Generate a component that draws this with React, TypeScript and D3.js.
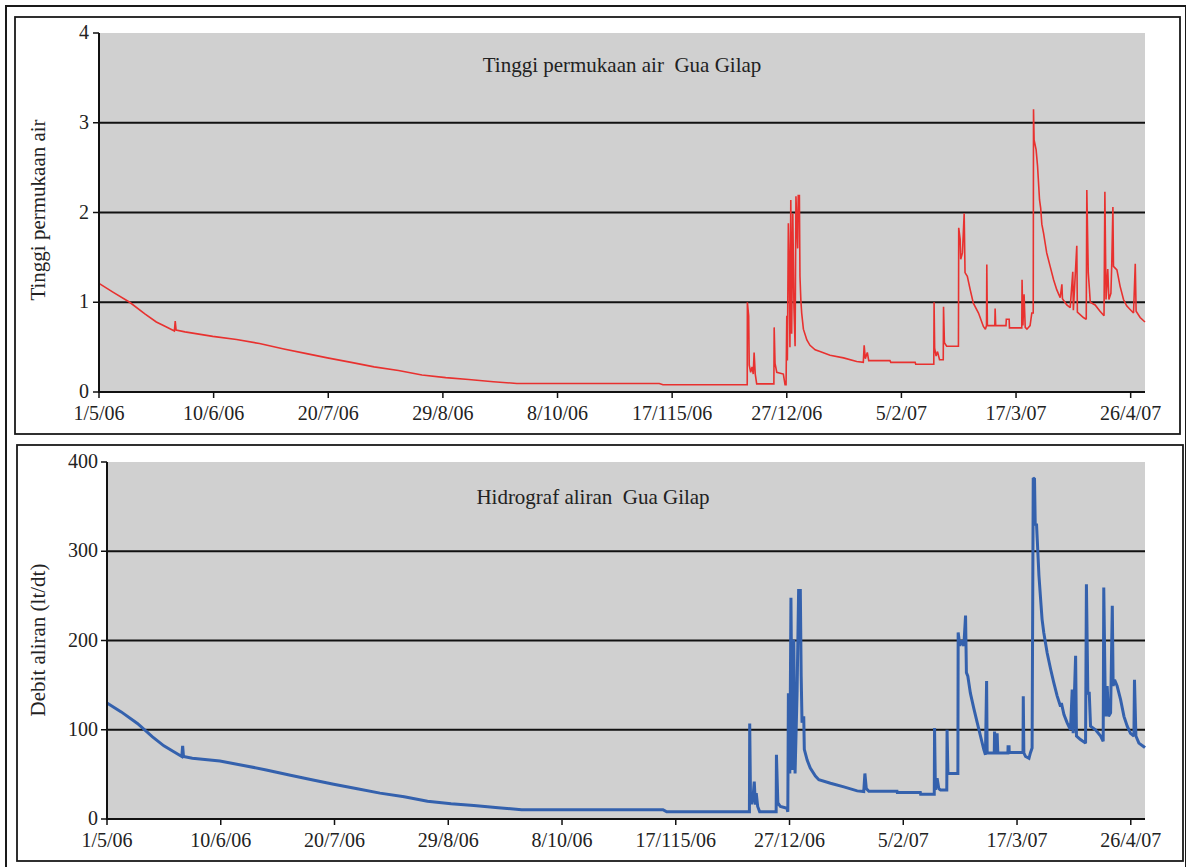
import React from "react";
import * as d3 from "d3";

// x-axis categories: day offsets from 1/5/06 and their labels
const tickDays = [0, 40, 80, 120, 160, 200, 240, 280, 320, 360];
const tickLabels = ["1/5/06", "10/6/06", "20/7/06", "29/8/06", "8/10/06", "17/115/06", "27/12/06", "5/2/07", "17/3/07", "26/4/07"];

const levelTicks = [0, 1, 2, 3, 4];
const flowTicks = [0, 100, 200, 300, 400];

// Tinggi permukaan air: [day offset from 1/5/06, value]
const levelSeries: [number, number][] = [
  [0, 1.21], [5, 1.11], [10.7, 1.0], [16, 0.87], [20, 0.78], [23.2, 0.73], [26.3, 0.68], [26.6, 0.79], [26.9, 0.69],
  [30, 0.67], [39.7, 0.62], [48, 0.585], [56, 0.54], [64.5, 0.48], [72, 0.43], [79.7, 0.38], [88, 0.33], [96, 0.28],
  [104.5, 0.24], [112.7, 0.19], [121, 0.16], [129, 0.14], [137.6, 0.115], [145.8, 0.095], [195.5, 0.095], [196.8, 0.08],
  [226.2, 0.08], [226.25, 1.0], [226.7, 0.85], [226.9, 0.3], [227.4, 0.22], [227.9, 0.28], [228.3, 0.2], [228.6, 0.44],
  [229.0, 0.2], [229.5, 0.09], [235.5, 0.09], [235.6, 0.72], [235.9, 0.32], [236.5, 0.22], [238.8, 0.2], [239.4, 0.08],
  [239.75, 0.08], [240.0, 0.85], [240.2, 0.35], [240.55, 1.88], [240.9, 1.29], [241.1, 0.5], [241.4, 2.14], [241.7, 0.65],
  [242.1, 1.99], [242.5, 0.95], [242.9, 0.51], [243.2, 2.18], [243.8, 1.6], [244.0, 2.19], [244.4, 2.19], [244.6, 1.29],
  [244.9, 1.03], [245.2, 0.88], [245.8, 0.7], [247.0, 0.58], [248.1, 0.52], [249.9, 0.47], [251.6, 0.45], [255.1, 0.41],
  [259.8, 0.38], [264.4, 0.34], [266.7, 0.33], [267.0, 0.52], [267.4, 0.37], [268.1, 0.44], [268.6, 0.35], [276.0, 0.35],
  [276.3, 0.33], [284.8, 0.33], [285.0, 0.31], [291.3, 0.31], [291.4, 1.0], [291.6, 0.49], [292.1, 0.4], [292.6, 0.45],
  [293.3, 0.36], [294.6, 0.36], [294.7, 0.95], [295.0, 0.55], [295.8, 0.51], [299.9, 0.51], [300.0, 1.83], [300.5, 1.7],
  [300.7, 1.48], [301.3, 1.55], [301.9, 1.99], [302.2, 1.33], [303.0, 1.29], [304.0, 1.14], [305.1, 0.99], [306.9, 0.88],
  [308.6, 0.73], [309.3, 0.7], [309.7, 0.74], [309.8, 1.42], [310.0, 0.74], [312.6, 0.74], [312.7, 0.93], [312.9, 0.74],
  [316.5, 0.74], [316.6, 0.81], [317.6, 0.81], [317.7, 0.715], [322.0, 0.715], [322.1, 1.25], [322.4, 0.74], [322.8, 1.09],
  [323.2, 0.72], [323.8, 0.7], [324.9, 0.74], [325.5, 0.88], [326.0, 0.88], [326.1, 3.15], [326.3, 2.81], [327.0, 2.7],
  [327.5, 2.52], [328.2, 2.14], [328.6, 2.05], [329.0, 1.87], [329.6, 1.77], [330.7, 1.55], [331.9, 1.4], [333.1, 1.25],
  [334.2, 1.14], [335.4, 1.05], [336.0, 1.2], [336.2, 1.04], [337.7, 0.97], [338.9, 0.94], [339.8, 1.34], [340.0, 0.91],
  [341.2, 1.63], [341.4, 0.89], [343.5, 0.83], [344.5, 0.81], [344.7, 2.25], [345.2, 1.33], [345.6, 1.15], [345.9, 1.0],
  [347.6, 0.97], [349.3, 0.9], [350.7, 0.85], [351.0, 2.23], [351.4, 1.03], [352.0, 1.37], [352.4, 1.03], [353.1, 1.1],
  [353.4, 1.42], [353.8, 2.06], [354.0, 1.4], [355.2, 1.36], [356.3, 1.18], [357.5, 1.03], [358.6, 0.96], [359.8, 0.92],
  [361.0, 0.88], [361.6, 1.43], [361.9, 0.9], [363.3, 0.83], [365.0, 0.78],
];

// Debit aliran (lt/dt): [day offset from 1/5/06, value]
const flowSeries: [number, number][] = [
  [0, 130], [5, 120], [10.7, 107], [16, 92], [20, 82], [23.2, 76], [26.3, 70], [26.6, 82], [26.9, 70], [30, 68],
  [39.7, 65], [48, 60], [56, 55], [64.5, 49], [72, 44], [79.7, 39], [88, 34], [96, 29], [104.5, 25], [112.7, 20],
  [121, 17], [129, 15], [137.6, 12.5], [145.8, 10.5], [195.5, 10.5], [196.8, 8],
  [225.9, 8], [226.0, 107], [226.3, 18], [226.8, 18], [227.2, 25], [227.6, 42], [228.0, 16], [228.3, 29], [228.8, 14],
  [229.5, 8], [235.3, 8], [235.4, 72], [235.9, 18], [236.8, 14], [239.1, 12], [239.4, 8], [239.6, 141], [240.1, 51],
  [240.5, 248], [241.0, 55], [241.5, 201], [241.95, 51], [242.65, 141], [243.2, 256], [243.8, 256], [244.1, 160],
  [244.4, 108], [245.0, 115], [245.2, 78], [246.2, 66], [247.3, 57], [249.1, 48], [250.3, 44], [254.4, 40], [259.1, 36],
  [263.8, 31.5], [266.1, 30.8], [266.5, 51], [267.0, 34], [267.9, 31], [277.8, 31], [277.9, 29.6], [286.0, 29.6],
  [286.1, 27.8], [290.9, 27.8], [291.0, 102], [291.3, 32.6], [291.9, 45.8], [292.5, 34], [293.1, 32.6], [295.3, 32.6],
  [295.4, 100], [295.7, 51], [299.2, 51], [299.3, 209], [299.9, 194], [300.35, 200], [301.3, 194], [301.9, 228],
  [302.2, 164], [302.7, 160], [303.6, 141], [304.8, 124], [306.0, 108], [307.15, 93], [308.3, 78], [308.9, 72],
  [309.3, 154.5], [309.5, 74], [312.0, 74], [312.1, 98], [312.4, 74], [312.9, 74], [313.0, 96], [313.25, 74],
  [316.8, 74], [316.85, 81], [317.2, 81], [317.25, 74.6], [322.1, 74.6], [322.2, 137.6], [322.4, 74], [323.0, 70],
  [324.2, 68], [324.7, 74], [325.3, 79.5], [325.7, 382], [326.15, 381], [326.4, 329], [326.85, 331], [327.1, 314],
  [327.7, 273], [328.3, 246], [328.8, 224], [329.4, 209], [330.6, 186], [331.8, 168], [332.9, 153], [334.1, 138],
  [335.3, 126], [335.6, 130], [336.5, 117], [337.6, 108], [338.8, 100], [339.4, 145], [339.75, 96], [340.6, 183],
  [340.9, 93], [342.3, 89], [344.1, 85], [344.4, 263], [344.9, 141], [345.4, 141], [345.85, 104], [347.6, 100],
  [349.4, 93], [350.3, 87], [350.5, 259.5], [351.1, 115], [351.7, 149], [352.2, 115], [352.9, 119], [353.5, 239],
  [353.8, 149], [354.3, 156], [355.2, 149], [356.4, 134], [357.6, 115], [358.75, 104], [359.9, 96], [361.1, 93],
  [361.3, 156], [361.8, 93], [362.85, 85], [364.6, 81], [365, 80],
];

const FONT = "'Liberation Serif', 'Times New Roman', serif";
const FS = 20;

type PanelProps = {
  box: { x: number; y: number; w: number; h: number };
  plot: { left: number; right: number; top: number; bottom: number };
  yMax: number;
  yTicks: number[];
  data: [number, number][];
  color: string;
  lineWidth: number;
  title: string;
  titleX: number;
  titleY: number;
  yTitle: string;
  yTitleX: number;
  yTitleY: number;
  yLabelX: number;
};

function Panel(p: PanelProps) {
  const x = d3.scaleLinear().domain([0, 365]).range([p.plot.left, p.plot.right]);
  const y = d3.scaleLinear().domain([0, p.yMax]).range([p.plot.bottom, p.plot.top]);
  const line = d3
    .line<[number, number]>()
    .x((d) => x(d[0]))
    .y((d) => y(d[1]));
  const path = line(p.data) || "";
  return (
    <g>
      <rect x={p.box.x} y={p.box.y} width={p.box.w} height={p.box.h} fill="#fff" stroke="#1a1a1a" strokeWidth={1.8} />
      <rect
        x={p.plot.left + 1}
        y={p.plot.top}
        width={p.plot.right - p.plot.left - 1}
        height={p.plot.bottom - p.plot.top}
        fill="#d0d0d0"
      />
      {p.yTicks
        .filter((t) => t > 0 && t < p.yMax)
        .map((t) => (
          <line key={"g" + t} x1={p.plot.left} x2={p.plot.right} y1={y(t)} y2={y(t)} stroke="#111" strokeWidth={2} />
        ))}
      <path d={path} fill="none" stroke={p.color} strokeWidth={p.lineWidth} strokeLinejoin="miter" strokeMiterlimit={2} />
      {/* y axis */}
      <line x1={p.plot.left} x2={p.plot.left} y1={p.plot.top} y2={p.plot.bottom + 1} stroke="#111" strokeWidth={2} />
      {p.yTicks.map((t) => (
        <g key={"y" + t}>
          <line x1={p.plot.left - 6} x2={p.plot.left} y1={y(t)} y2={y(t)} stroke="#111" strokeWidth={1.5} />
          <text x={p.yLabelX} y={y(t) - 1} dy="0.35em" textAnchor="end" fontFamily={FONT} fontSize={FS} fill="#222">
            {t}
          </text>
        </g>
      ))}
      {/* x axis */}
      <line x1={p.plot.left} x2={p.plot.right} y1={p.plot.bottom} y2={p.plot.bottom} stroke="#111" strokeWidth={2} />
      {tickDays.map((d, i) => (
        <g key={"x" + d}>
          <line x1={x(d)} x2={x(d)} y1={p.plot.bottom} y2={p.plot.bottom + 6} stroke="#111" strokeWidth={1.5} />
          <text x={x(d)} y={p.plot.bottom + 28} textAnchor="middle" fontFamily={FONT} fontSize={FS} fill="#222">
            {tickLabels[i]}
          </text>
        </g>
      ))}
      <text x={p.titleX} y={p.titleY} textAnchor="middle" fontFamily={FONT} fontSize={21} fill="#222" style={{ whiteSpace: "pre" }}>
        {p.title}
      </text>
      <text
        transform={`translate(${p.yTitleX},${p.yTitleY}) rotate(-90)`}
        textAnchor="middle"
        fontFamily={FONT}
        fontSize={21}
        fill="#222"
      >
        {p.yTitle}
      </text>
    </g>
  );
}

export default function App() {
  return (
    <div style={{ position: "absolute", left: 0, top: 0 }}>
      <svg width={1186} height={867} style={{ display: "block", background: "#fff" }}>
        <rect x={6} y={6} width={1180} height={870} fill="none" stroke="#1a1a1a" strokeWidth={2} />
        <Panel
          box={{ x: 15, y: 17, w: 1165, h: 417 }}
          plot={{ left: 99, right: 1145, top: 33, bottom: 392 }}
          yMax={4}
          yTicks={levelTicks}
          data={levelSeries}
          color="#e8312f"
          lineWidth={1.6}
          title={"Tinggi permukaan air  Gua Gilap"}
          titleX={622}
          titleY={72}
          yTitle="Tinggi permukaan air"
          yTitleX={45}
          yTitleY={210}
          yLabelX={89}
        />
        <Panel
          box={{ x: 17, y: 445, w: 1166, h: 416 }}
          plot={{ left: 107, right: 1145, top: 462, bottom: 819 }}
          yMax={400}
          yTicks={flowTicks}
          data={flowSeries}
          color="#3461ad"
          lineWidth={3}
          title={"Hidrograf aliran  Gua Gilap"}
          titleX={593}
          titleY={504}
          yTitle="Debit aliran (lt/dt)"
          yTitleX={45}
          yTitleY={640}
          yLabelX={98}
        />
      </svg>
    </div>
  );
}
